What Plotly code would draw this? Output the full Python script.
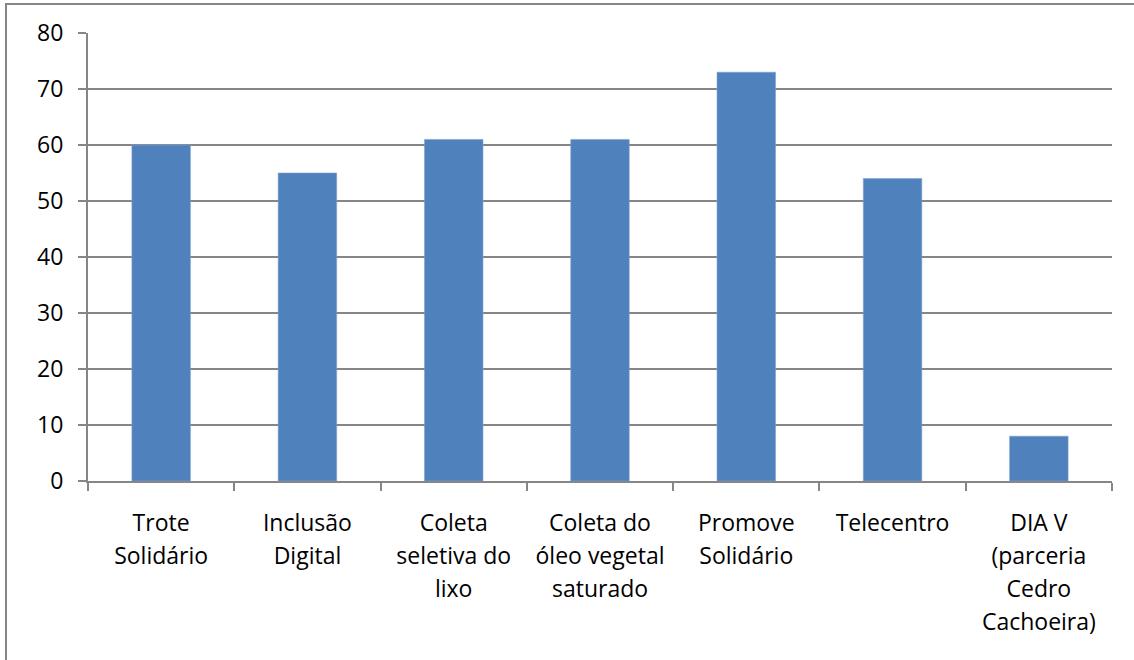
import plotly.graph_objects as go

label_lines = [
    ["Trote", "Solidário"],
    ["Inclusão", "Digital"],
    ["Coleta", "seletiva do", "lixo"],
    ["Coleta do", "óleo vegetal", "saturado"],
    ["Promove", "Solidário"],
    ["Telecentro"],
    ["DIA V", "(parceria", "Cedro", "Cachoeira)"],
]
values = [60, 55, 61, 61, 73, 54, 8]
y_ticks = [0, 10, 20, 30, 40, 50, 60, 70, 80]

W, H = 1134, 660
ML, MR, MT, MB = 88, 22, 33, 179
PW, PH = W - ML - MR, H - MT - MB

FONT_SIZE = 23
LINE_FONT = 25.5  # controls the line spacing of multi-line labels

categories = ["<br>".join(lines) for lines in label_lines]
tick_text = [
    "<br>".join(f'<span style="font-size:{FONT_SIZE}px">{t}</span>' for t in lines)
    for lines in label_lines
]

grid = "#868686"
fig = go.Figure(
    go.Bar(
        x=categories,
        y=values,
        marker=dict(color="#4F81BD", line=dict(color="#7FA3D0", width=0.6)),
        width=0.4,
    )
)
fig.update_layout(
    width=W,
    height=H,
    margin=dict(l=ML, r=MR, t=MT, b=MB),
    plot_bgcolor="white",
    paper_bgcolor="white",
    font=dict(family="Open Sans, sans-serif", size=FONT_SIZE, color="#000000"),
    showlegend=False,
    bargap=0.6,
)
fig.update_xaxes(
    tickvals=categories,
    ticktext=tick_text,
    tickfont=dict(size=LINE_FONT),
    showline=True,
    linecolor=grid,
    linewidth=2,
    ticks="outside",
    tickson="boundaries",
    ticklen=8,
    tickwidth=2,
    tickcolor=grid,
    showgrid=False,
    ticklabelstandoff=17,
    tickangle=0,
)
fig.update_yaxes(
    range=[0, 80],
    tickvals=y_ticks,
    showline=True,
    linecolor=grid,
    linewidth=2,
    ticks="outside",
    ticklen=8,
    tickwidth=2,
    tickcolor=grid,
    showgrid=True,
    gridcolor=grid,
    gridwidth=2,
    zeroline=False,
    ticklabelstandoff=10,
)
fig.add_shape(
    type="rect",
    xref="paper",
    yref="paper",
    x0=(6 - ML) / PW,
    x1=1.2,
    y0=-0.6,
    y1=1 + (MT - 4) / PH,
    line=dict(color=grid, width=2),
    layer="below",
)
fig.write_html(
    "out.html",
    config={"displayModeBar": False},
    post_script="document.body.style.margin='0px';",
)
